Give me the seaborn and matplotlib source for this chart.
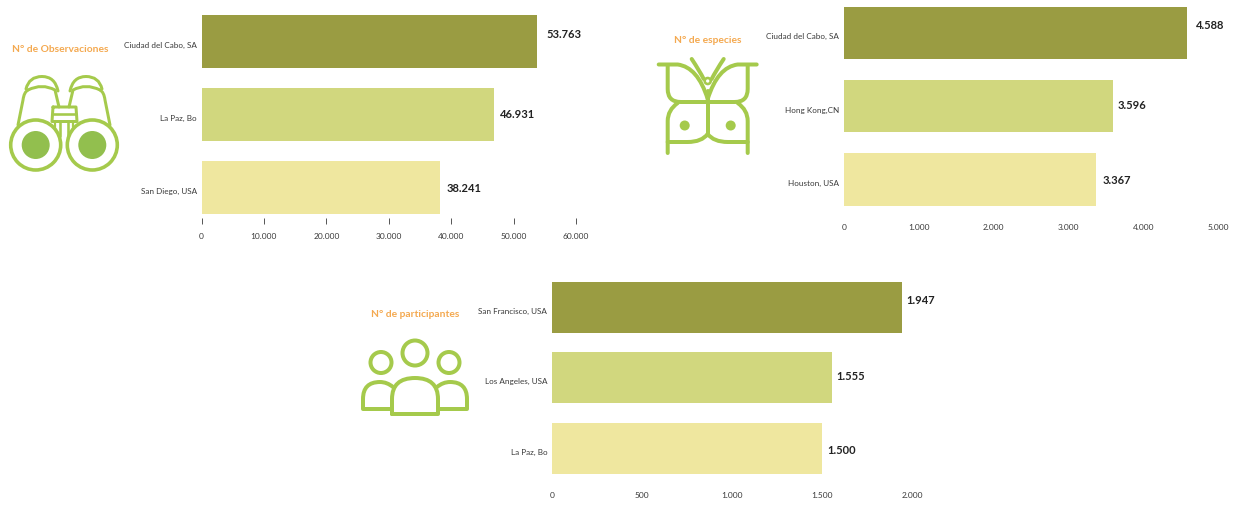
import matplotlib
matplotlib.use("Agg")
import matplotlib.pyplot as plt
import pandas as pd
import seaborn as sns
from matplotlib.patches import Circle, PathPatch
from matplotlib.path import Path
from matplotlib.transforms import ScaledTranslation

W, H = 1238, 506
sns.set_theme(style="white")
plt.rcParams["font.family"] = ["Lato", "DejaVu Sans"]

# Top three cities for each metric
obs_cities = ["Ciudad del Cabo, SA", "La Paz, Bo", "San Diego, USA"]
obs_values = [53763, 46931, 38241]
obs_ticks = [0, 10000, 20000, 30000, 40000, 50000, 60000]

species_cities = ["Ciudad del Cabo, SA", "Hong Kong,CN", "Houston, USA"]
species_values = [4588, 3596, 3367]
species_ticks = [0, 1000, 2000, 3000, 4000, 5000]

people_cities = ["San Francisco, USA", "Los Angeles, USA", "La Paz, Bo"]
people_values = [1947, 1555, 1500]
people_ticks = [0, 500, 1000, 1500, 2000]

titles = ["N° de Observaciones", "N° de especies", "N° de participantes"]
bar_colors = ["#9A9C42", "#D1D77E", "#EFE79F"]
title_color = "#F4A950"
icon_color = "#A5CA4C"
icon_dark = "#92BF4E"
text_color = "#3A3A3A"

M, L, C3 = Path.MOVETO, Path.LINETO, Path.CURVE3


def dotted(value):
    return f"{value:,}".replace(",", ".")


def panel(fig, box, cities, values, ticks, xmax, gaps, nudges, tick_marks, tick_pad):
    left, top, right, bottom = box
    ax = fig.add_axes([left / W, 1 - bottom / H, (right - left) / W, (bottom - top) / H])
    frame = pd.DataFrame({"city": cities, "value": values})
    sns.barplot(data=frame, x="value", y="city", hue="city", palette=bar_colors,
                order=cities, hue_order=cities, dodge=False, legend=False,
                width=0.72, saturation=1, linewidth=0, ax=ax)
    ax.set_xlim(0, xmax)
    ax.set_ylim(2.5, -0.5)
    ax.set_xlabel("")
    ax.set_ylabel("")
    sns.despine(ax=ax, left=True, bottom=True)
    ax.set_xticks(ticks)
    ax.set_xticklabels([dotted(t) for t in ticks])
    ax.tick_params(axis="x", bottom=tick_marks, direction="in", length=4.5, width=0.7,
                   color="#555555", labelsize=6, labelcolor=text_color, pad=tick_pad)
    ax.tick_params(axis="y", left=False, length=0, labelsize=5.9, labelcolor=text_color, pad=3.5)
    shift = ScaledTranslation(0, -2.5 / 100, fig.dpi_scale_trans)
    for label in ax.get_yticklabels():
        label.set_transform(label.get_transform() + shift)
    for i, value in enumerate(values):
        ax.annotate(dotted(value), (value, i), xytext=(gaps[i] * 0.72, -nudges[i] * 0.72),
                    textcoords="offset points", va="center", ha="left",
                    fontsize=8, fontweight="bold", color="#222222")
    return ax


def stroke(ov, pts, codes=None, lw=3.0):
    path = Path(pts, codes) if codes else Path(pts)
    ov.add_patch(PathPatch(path, fc="none", ec=icon_color, lw=lw * 0.72,
                           capstyle="round", joinstyle="round"))


def ring(ov, xy, r, lw=3.0, filled=False, color=icon_color):
    ov.add_patch(Circle(xy, r, fc=color if filled else "none",
                        ec=color, lw=0 if filled else lw * 0.72))


def binoculars(ov):
    for side in (-1, 1):
        cx = 64 + side * 28.3
        ring(ov, (cx, 146), 25, lw=3.6)
        ring(ov, (cx, 146), 14, filled=True, color=icon_dark)
        fx = lambda d: 64 + side * d
        # barrel
        stroke(ov, [(fx(46), 126), (fx(41), 101), (fx(40), 93), (fx(36), 91)],
               [M, L, C3, C3], lw=3)
        stroke(ov, [(fx(36), 91), (fx(22), 84), (fx(9), 91), (fx(5), 108)],
               [M, C3, C3, L], lw=3)
        # eyecup
        stroke(ov, [(fx(38), 90), (fx(35), 77.5), (fx(22), 77.5), (fx(9), 77.5), (fx(6), 92)],
               [M, C3, C3, C3, C3], lw=3)
        # inner strut
        stroke(ov, [(fx(4), 123), (fx(4), 137)], lw=2.6)
        # inner barrel edge
        stroke(ov, [(fx(9), 122), (fx(9), 128)], lw=2.2)
    # central hinge
    stroke(ov, [(53, 108), (76, 108), (77, 122.5), (52, 122.5), (53, 108)], lw=3)
    stroke(ov, [(53, 115), (76, 115)], lw=2.6)


def butterfly(ov):
    cx, lw = 707.7, 4
    for s in (-1, 1):
        fx = lambda d: cx + s * d
        # top edge sweeping into the body
        stroke(ov, [(fx(49), 65.5), (fx(30), 65.5), (fx(10), 68), (fx(0), 100)],
               [M, L, C3, C3], lw=lw)
        # upper wing
        stroke(ov, [(fx(40), 66), (fx(40), 90), (fx(40), 103), (fx(27), 103), (fx(0), 103)],
               [M, L, C3, C3, L], lw=lw)
        # lower wing
        stroke(ov, [(fx(40), 154), (fx(40), 122), (fx(40), 111), (fx(30), 104)],
               [M, L, C3, C3], lw=lw)
        stroke(ov, [(fx(40), 143), (fx(20), 143), (fx(6), 143), (fx(0), 135)],
               [M, L, C3, C3], lw=lw)
        # antenna
        stroke(ov, [(fx(16), 60), (fx(8), 72), (fx(4), 80)], [M, C3, C3], lw=lw)
        # wing spot
        ring(ov, (fx(23), 126.5), 5, filled=True)
    stroke(ov, [(cx, 92), (cx, 136)], lw=lw)
    ring(ov, (cx, 82), 3, lw=2.6)


def people(ov):
    lw = 4
    ring(ov, (415, 354), 12.5, lw=lw)
    ring(ov, (381, 363.5), 10.5, lw=lw)
    ring(ov, (449, 363.5), 10.5, lw=lw)
    stroke(ov, [(392, 415), (392, 400), (392, 379), (415, 379), (438, 379), (438, 400),
                (438, 415), (392, 415)], [M, L, C3, C3, C3, C3, L, L], lw=lw)
    stroke(ov, [(392, 410), (363, 410), (363, 400), (363, 383), (380, 383), (387, 383), (393, 388)],
           [M, L, L, C3, C3, C3, C3], lw=lw)
    stroke(ov, [(438, 410), (467, 410), (467, 400), (467, 383), (450, 383), (443, 383), (437, 388)],
           [M, L, L, C3, C3, C3, C3], lw=lw)


fig = plt.figure(figsize=(W / 100, H / 100), dpi=100, facecolor="white")

panel(fig, (201.5, 5.7, 576, 225.3), obs_cities, obs_values, obs_ticks, 60000,
      [9, 5, 6], [-7.5, -1.5, 0], True, 5.7)
panel(fig, (844, -2.7, 1218, 216.8), species_cities, species_values, species_ticks, 5000,
      [9, 5, 7], [-8, -2, 0.5], False, 5.5)
panel(fig, (552, 273, 912, 484.6), people_cities, people_values, people_ticks, 2000,
      [4, 4, 5], [-7.5, -2, 1.5], False, 5.5)

# Overlay in pixel units for the headings and icons
overlay = fig.add_axes([0, 0, 1, 1], zorder=5)
overlay.set_xlim(0, W)
overlay.set_ylim(H, 0)
overlay.axis("off")
overlay.patch.set_alpha(0)

for (x, y), title in zip([(60, 49.5), (707.5, 40.5), (415, 314.5)], titles):
    overlay.text(x, y, title, ha="center", va="center", fontsize=7.4,
                 fontweight="bold", color=title_color)

binoculars(overlay)
butterfly(overlay)
people(overlay)

fig.savefig("out.png", dpi=100, facecolor="white")
